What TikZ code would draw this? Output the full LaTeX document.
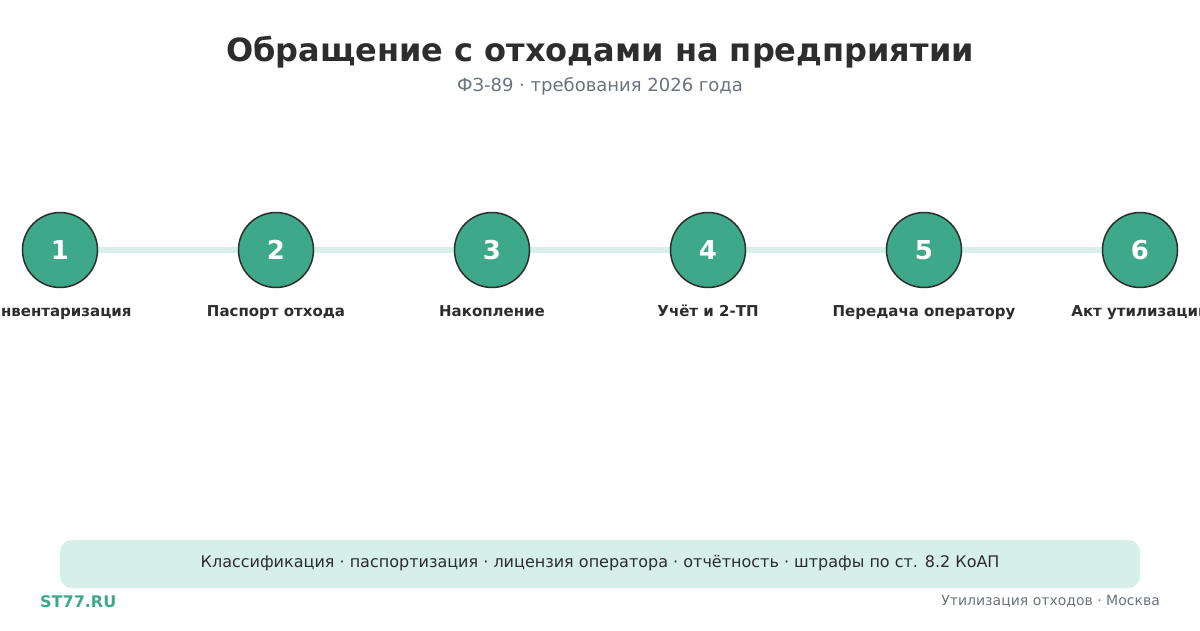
\documentclass[tikz,border=0pt]{standalone}
\usepackage{fontspec}
\setmainfont{DejaVu Sans}
\definecolor{dark}{HTML}{2D2D2D}
\definecolor{green}{HTML}{3EA88A}
\definecolor{pale}{HTML}{D6EFE8}
\definecolor{gray}{HTML}{6B7280}
\tikzset{
  stepcirc/.style={circle,draw=dark,line width=1.5pt,fill=green,minimum size=75pt,inner sep=0pt,text=white,font=\fontsize{26}{26}\selectfont\bfseries},
  steplabel/.style={text=dark,font=\fontsize{15}{15}\selectfont\bfseries,anchor=base,inner sep=0pt},
}
\begin{document}
\begin{tikzpicture}[x=1pt,y=-1pt]
\useasboundingbox (0,0) rectangle (1200,630);
\clip (0,0) rectangle (1200,630);
\fill[white] (0,0) rectangle (1200,630);
\node[text=dark,font=\fontsize{32}{32}\selectfont\bfseries,anchor=base,inner sep=0pt] (title) at (600,61) {Обращение с отходами на предприятии};
\node[text=gray,font=\fontsize{18}{18}\selectfont,anchor=base,inner sep=0pt] (sub) at (600,91) {ФЗ-89 · требования 2026 года};
\foreach \i/\x in {1/60,2/276,3/492,4/708,5/924,6/1140} {
  \coordinate (c\i) at (\x,250);
  \coordinate (t\i) at (\x,316);
}
\draw[pale,line width=6pt] (c1) -- (c2) -- (c3) -- (c4) -- (c5) -- (c6);
\foreach \i/\t in {1/Инвентаризация,2/Паспорт отхода,3/Накопление,4/Учёт и 2-ТП,5/Передача оператору,6/Акт утилизации} {
  \node[stepcirc] (n\i) at (c\i) {\i};
  \node[steplabel] (l\i) at (t\i) {\t};
}
\fill[pale,rounded corners=12pt] (60,540) rectangle (1140,588);
\node[text=dark,font=\fontsize{16}{16}\selectfont,anchor=base,inner sep=0pt] (band) at (600,567) {Классификация · паспортизация · лицензия оператора · отчётность · штрафы по ст. 8.2 КоАП};
\node[anchor=base west,text=green,font=\fontsize{16}{16}\selectfont\bfseries,inner sep=0pt] (brand) at (40,607) {ST77.RU};
\node[anchor=base east,text=gray,font=\fontsize{14}{14}\selectfont,inner sep=0pt] (city) at (1160,605) {Утилизация отходов · Москва};
\end{tikzpicture}
\end{document}
